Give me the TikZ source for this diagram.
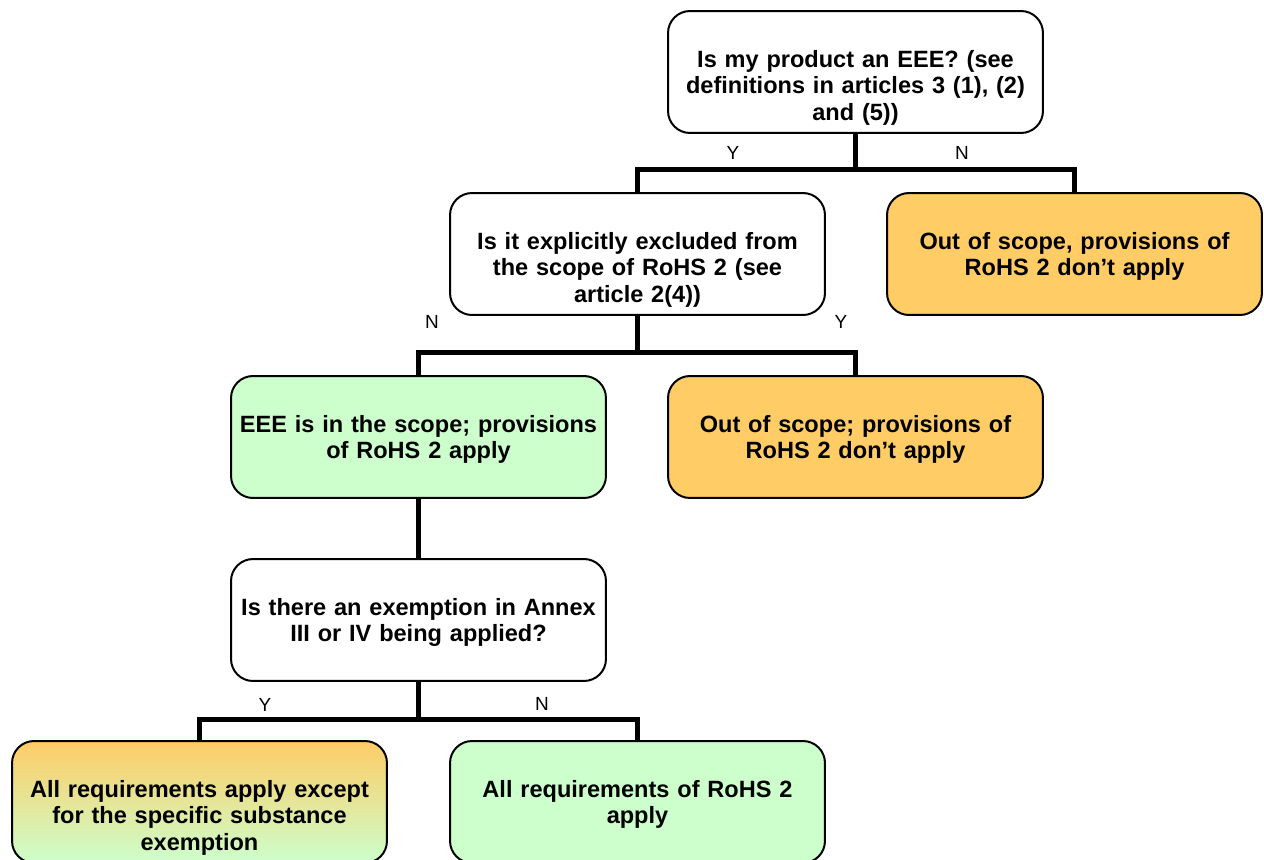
\documentclass[tikz,border=0pt]{standalone}
\usepackage{fontspec}
\setmainfont{Liberation Sans}
\usetikzlibrary{calc}
\definecolor{outorange}{HTML}{FFCC66}
\definecolor{ingreen}{HTML}{CCFFCC}

\begin{document}
\begin{tikzpicture}[
    x=0.02cm, y=-0.02cm,
    box/.style={draw, line width=0.04cm, rounded corners=0.44cm, text width=7.5cm, align=center,
      inner sep=0pt, text height=1.12cm, text depth=1.32cm, font=\fontsize{13.4}{15.2}\selectfont\bfseries},
    outbox/.style={box, fill=outorange},
    inbox/.style={box, fill=ingreen},
    conn/.style={line width=0.1cm},
    yn/.style={font=\fontsize{10.8}{13}\selectfont, inner sep=0pt}
    ]
    \useasboundingbox (0,0) rectangle (1264,859);
    \node[box] (q1) at (855.5,72) {Is my product an EEE? (see\\definitions in articles 3 (1), (2)\\and (5))};
    \node[box] (q2) at (637.5,254) {Is it explicitly excluded from\\the scope of RoHS 2 (see\\article 2(4))};
    \node[outbox] (out1) at (1074.5,254) {Out of scope, provisions of\\RoHS 2 don’t apply};
    \node[inbox] (in) at (418.5,437) {EEE is in the scope; provisions\\of RoHS 2 apply};
    \node[outbox] (out2) at (855.5,437) {Out of scope; provisions of\\RoHS 2 don’t apply};
    \node[box] (q3) at (418.5,620) {Is there an exemption in Annex\\III or IV being applied?};
    \node[box, top color=outorange, bottom color=ingreen] (exempt) at (199.5,802) {All requirements apply except\\for the specific substance\\exemption};
    \node[inbox] (all) at (637.5,802) {All requirements of RoHS 2\\apply};
    \coordinate (b1) at ($(q1.south)+(0,36)$);
    \coordinate (b2) at ($(q2.south)+(0,37)$);
    \coordinate (b3) at ($(q3.south)+(0,38)$);
    \draw[conn] (q1.south) -- (b1);
    \draw[conn] (q2.north) |- (b1) -| (out1.north);
    \draw[conn] (q2.south) -- (b2);
    \draw[conn] (in.north) |- (b2) -| (out2.north);
    \draw[conn] (in.south) -- (q3.north);
    \draw[conn] (q3.south) -- (b3);
    \draw[conn] (exempt.north) |- (b3) -| (all.north);
    \node[yn] (y1) at (733,153) {Y};
    \node[yn] (n1) at (962,153) {N};
    \node[yn] (n2) at (432,322) {N};
    \node[yn] (y2) at (841,322) {Y};
    \node[yn] (y3) at (265,705) {Y};
    \node[yn] (n3) at (542,704) {N};
\end{tikzpicture}
\end{document}
